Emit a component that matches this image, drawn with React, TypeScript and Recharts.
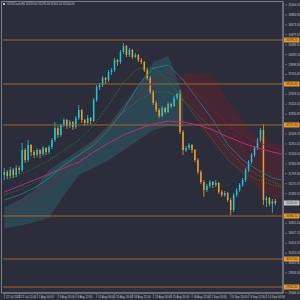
import React from "react";
import { ComposedChart, Bar, Line, Area, XAxis, YAxis, ReferenceLine } from "recharts";

// US30 H4 candles
const opens = [
  31746, 31804, 31726, 31843, 31746, 31882, 31843, 32233, 32038, 32331,
  32194, 32136, 32233, 32155, 32272, 32194, 32292, 32428, 32662, 32526,
  32721, 32818, 32701, 32779, 32682, 32857, 33013, 32818, 32760, 32857,
  32799, 33208, 33462, 33501, 33637, 33598, 33754, 33793, 33988, 33949,
  34144, 34261, 34086, 34183, 34047, 34086, 33988, 33949, 33793, 33637,
  33364, 33150, 33013, 32896, 33052, 32974, 33130, 33091, 33247, 33325,
  32584, 32233, 32272, 32331, 32233, 32038, 31804, 31609, 31453, 31531,
  31609, 31551, 31590, 31414, 31356, 31395, 31258, 31063, 31356, 31453,
  31551, 31648, 31843, 31999, 32136, 32272, 32428, 32623, 31258, 31297,
  31180, 31239,
];
const highs = [
  31882, 31843, 31902, 31882, 31941, 31921, 32370, 32272, 32428, 32350,
  32233, 32272, 32253, 32311, 32292, 32331, 32467, 32779, 32701, 32740,
  32857, 32838, 32818, 32799, 32896, 33111, 33033, 32838, 32916, 32877,
  33247, 33501, 33540, 33676, 33657, 33793, 33832, 34027, 34008, 34183,
  34320, 34281, 34222, 34203, 34125, 34105, 34027, 33969, 33832, 33676,
  33403, 33189, 33052, 33091, 33072, 33169, 33150, 33286, 33345, 33403,
  32623, 32311, 32370, 32350, 32253, 32077, 31843, 31648, 31570, 31648,
  31629, 31648, 31609, 31453, 31434, 31414, 31297, 31395, 31492, 31590,
  31687, 31882, 32038, 32175, 32311, 32467, 32662, 32740, 31336, 31317,
  31278, 31278,
];
const lows = [
  31648, 31668, 31687, 31687, 31707, 31765, 31804, 31980, 31999, 32116,
  32077, 32097, 32077, 32116, 32136, 32155, 32253, 32389, 32467, 32487,
  32682, 32643, 32662, 32623, 32643, 32818, 32760, 32701, 32721, 32740,
  32779, 33169, 33403, 33462, 33520, 33559, 33696, 33754, 33871, 33910,
  34105, 34047, 34047, 34008, 34027, 33949, 33910, 33754, 33598, 33325,
  33111, 32974, 32857, 32877, 32935, 32955, 33052, 33072, 33208, 32545,
  32136, 32194, 32233, 32175, 31999, 31765, 31570, 31317, 31414, 31492,
  31492, 31512, 31375, 31317, 31317, 31219, 30966, 31024, 31317, 31414,
  31512, 31609, 31804, 31960, 32097, 32233, 32389, 31161, 31122, 31141,
  31005, 31161,
];
const closes = [
  31804, 31726, 31843, 31746, 31882, 31843, 32233, 32038, 32331, 32194,
  32136, 32233, 32155, 32272, 32194, 32292, 32428, 32662, 32526, 32721,
  32818, 32701, 32779, 32682, 32857, 33013, 32818, 32760, 32857, 32799,
  33208, 33462, 33501, 33637, 33598, 33754, 33793, 33988, 33949, 34144,
  34261, 34086, 34183, 34047, 34086, 33988, 33949, 33793, 33637, 33364,
  33150, 33013, 32896, 33052, 32974, 33130, 33091, 33247, 33325, 32584,
  32233, 32272, 32331, 32233, 32038, 31804, 31609, 31453, 31531, 31609,
  31551, 31590, 31414, 31356, 31395, 31258, 31063, 31356, 31453, 31551,
  31648, 31843, 31999, 32136, 32272, 32428, 32623, 31258, 31297, 31180,
  31239, 31200,
];

// indicator values, sampled at these bar indexes
const lineKnots = [0, 5, 10, 15, 20, 25, 30, 35, 40, 45, 50, 55, 60, 65, 70, 75, 80, 85, 90, 93];
const maMagenta = [31414, 31531, 31648, 31765, 31882, 31999, 32194, 32370, 32526, 32643, 32740, 32799, 32779, 32721, 32623, 32487, 32370, 32272, 32194, 32155];
const maRed = [30966, 31161, 31356, 31551, 31804, 32038, 32428, 32721, 33013, 33306, 33559, 33696, 33598, 33306, 33013, 32721, 32526, 32389, 32272, 32233];
const maGreenFast = [31648, 31746, 31882, 32038, 32233, 32428, 32721, 33111, 33559, 33832, 33832, 33598, 33208, 32818, 32428, 32038, 31804, 31648, 31551, 31512];
const maGreenSlow = [31356, 31453, 31590, 31746, 31941, 32136, 32389, 32662, 32974, 33208, 33364, 33364, 33208, 32916, 32623, 32233, 31941, 31746, 31609, 31551];
const kijunTeal = [31258, 31356, 31492, 31687, 31941, 32136, 32331, 32623, 33013, 33501, 33832, 33891, 33598, 33208, 32818, 32331, 32038, 31843, 31687, 31648];

const upCloudKnots = [0, 5, 10, 15, 20, 25, 30, 35, 40, 45, 50, 55, 60];
const upCloudTop = [31122, 31258, 31453, 31843, 32038, 32233, 32428, 32721, 33111, 33501, 33949, 34066, 33306];
const upCloudBottom = [30712, 30751, 30829, 30907, 31356, 31746, 31882, 32038, 32233, 32428, 32623, 32701, 32682];
const downCloudKnots = [60, 65, 70, 75, 80, 85, 90, 93];
const downCloudTop = [33735, 33735, 33676, 33208, 32818, 32526, 32389, 32331];
const downCloudBottom = [33208, 32721, 32331, 32038, 31746, 31492, 31297, 31258];

const levels = [34378.2, 33520.4, 32721.3, 30946.1, 30107.6, 29561.5];
const lastPrice = 31200.0;

const priceTicks = [
  35060.5, 34866.9, 34673.3, 34479.7, 34286.1, 34092.5, 33898.9, 33705.3,
  33318.1, 33124.5, 32930.9, 32543.7, 32350.1, 32156.5, 31962.9, 31769.3,
  31575.7, 31382.1, 30801.3, 30607.7, 30414.1, 30220.5, 30026.9, 29833.3, 29446.1,
];
const dateTickIdx = [0, 5, 11, 18, 24, 31, 37, 43, 50, 56, 63, 69, 76, 82, 88];
const dateTickLabels = [
  "22 Jul 2022", "27 Jul 12:00", "1 Aug 04:00", "3 Aug 20:00", "8 Aug 12:00",
  "11 Aug 04:00", "15 Aug 20:00", "18 Aug 12:00", "23 Aug 04:00", "25 Aug 20:00",
  "30 Aug 12:00", "2 Sep 04:00", "6 Sep 20:00", "9 Sep 12:00", "14 Sep 04:00",
];

const SLOTS = 94;
const BG = "#2c2d3a";
const BULL = "#1cc8dc";
const BEAR = "#eb9c2c";
const TXT = "#c4c4cc";
const FONT = "Liberation Sans";

const pick = (knots: number[], vals: number[], i: number) => {
  const k = knots.indexOf(i);
  return k >= 0 ? vals[k] : null;
};

const rows = Array.from({ length: SLOTS }, (_, i) => {
  const has = i < opens.length;
  const up = upCloudKnots.indexOf(i);
  const dn = downCloudKnots.indexOf(i);
  return {
    i,
    o: has ? opens[i] : null,
    h: has ? highs[i] : null,
    l: has ? lows[i] : null,
    c: has ? closes[i] : null,
    range: has ? [lows[i], highs[i]] : null,
    upCloud: up >= 0 ? [upCloudBottom[up], upCloudTop[up]] : null,
    downCloud: dn >= 0 ? [downCloudBottom[dn], downCloudTop[dn]] : null,
    magenta: pick(lineKnots, maMagenta, i),
    red: pick(lineKnots, maRed, i),
    greenFast: pick(lineKnots, maGreenFast, i),
    greenSlow: pick(lineKnots, maGreenSlow, i),
    kijun: pick(lineKnots, kijunTeal, i),
  };
});

function Candle(props: any) {
  const { x, y, width, height, payload } = props;
  if (!payload || payload.o == null) return null;
  const top = Math.min(y, y + height);
  const h = Math.abs(height);
  const k = h / (payload.h - payload.l);
  const color = payload.c >= payload.o ? BULL : BEAR;
  const cx = x + width / 2;
  const bTop = top + (payload.h - Math.max(payload.o, payload.c)) * k;
  const bH = Math.max(1, Math.abs(payload.o - payload.c) * k);
  return (
    <g>
      <line x1={cx} x2={cx} y1={top} y2={top + h} stroke={color} strokeWidth={0.8} />
      <rect x={cx - 0.75} y={bTop} width={1.5} height={bH} fill={color} />
    </g>
  );
}

function PriceTick({ x, y, payload }: any) {
  return (
    <g>
      <line x1={x} x2={x + 2} y1={y} y2={y} stroke="#8a8a94" strokeWidth={0.6} />
      <text x={x + 3.5} y={y + 1} fontSize={2.7} fill={TXT} fontFamily={FONT}>
        {payload.value.toFixed(2)}
      </text>
    </g>
  );
}

function DateTick({ x, y, payload }: any) {
  const k = dateTickIdx.indexOf(payload.value);
  return (
    <g>
      <line x1={x} x2={x} y1={y - 1} y2={y + 3} stroke="#8a8a94" strokeWidth={0.6} />
      <text x={x + 1.5} y={y + 2.6} fontSize={2.8} fill={TXT} fontFamily={FONT}>
        {k >= 0 ? dateTickLabels[k] : ""}
      </text>
    </g>
  );
}

function Tag({ viewBox, text, bg, fg }: any) {
  if (!viewBox) return null;
  const x = viewBox.x + viewBox.width + 1;
  const y = viewBox.y;
  return (
    <g>
      <rect x={x} y={y - 2.5} width={15.5} height={5} fill={bg} />
      <text x={x + 2} y={y + 1} fontSize={2.7} fill={fg} fontFamily={FONT}>
        {text}
      </text>
    </g>
  );
}

export default function App() {
  return (
    <div style={{ position: "absolute", left: 0, top: 0, width: 300, height: 300, background: BG, overflow: "hidden" }}>
      <ComposedChart width={300} height={300} data={rows} margin={{ top: 3, right: 0, bottom: 0, left: 3 }}>
        <XAxis
          dataKey="i"
          type="category"
          ticks={dateTickIdx}
          interval={0}
          height={7}
          axisLine={{ stroke: "#8a8a94" }}
          tickLine={false}
          tickSize={0}
          tick={<DateTick />}
        />
        <YAxis
          orientation="right"
          type="number"
          domain={[29444.5, 35099.5]}
          allowDataOverflow
          ticks={priceTicks}
          interval={0}
          width={17}
          axisLine={{ stroke: "#8a8a94" }}
          tickLine={false}
          tickSize={0}
          tick={<PriceTick />}
        />
        <Area dataKey="upCloud" type="linear" fill="#2f7d88" fillOpacity={0.32} stroke="none" connectNulls isAnimationActive={false} />
        <Area dataKey="downCloud" type="linear" fill="#7a1a28" fillOpacity={0.32} stroke="none" connectNulls isAnimationActive={false} />
        {levels.map((v) => (
          <ReferenceLine
            key={v}
            y={v}
            stroke="#a5642a"
            strokeWidth={1}
            label={<Tag text={v.toFixed(2)} bg="#e8982c" fg="#2a2a2a" />}
          />
        ))}
        <ReferenceLine
          y={lastPrice}
          stroke="none"
          label={<Tag text={lastPrice.toFixed(2)} bg="#c8c8cc" fg="#2a2a2a" />}
        />
        <Line dataKey="magenta" stroke="#b3307c" strokeWidth={1} dot={false} connectNulls isAnimationActive={false} />
        <Line dataKey="red" stroke="#7e1e2c" strokeWidth={0.8} dot={false} connectNulls isAnimationActive={false} />
        <Line dataKey="kijun" stroke="#277f84" strokeWidth={0.8} dot={false} connectNulls isAnimationActive={false} />
        <Line dataKey="greenFast" stroke="#2f9440" strokeWidth={0.8} strokeDasharray="1 1.5" dot={false} connectNulls isAnimationActive={false} />
        <Line dataKey="greenSlow" stroke="#2f9440" strokeWidth={0.8} strokeDasharray="1 1.5" dot={false} connectNulls isAnimationActive={false} />
        <Bar dataKey="range" shape={(p: any) => <Candle {...p} />} isAnimationActive={false} />
      </ComposedChart>
      <svg width={300} height={300} style={{ position: "absolute", left: 0, top: 0, pointerEvents: "none" }}>
        <rect x={1.5} y={1.5} width={281.5} height={291.5} fill="none" stroke="#7c7d88" strokeWidth={1} />
        <rect x={3} y={3} width={2} height={2} fill={TXT} />
        <text x={7} y={5} fontSize={2.8} fill={TXT} fontFamily={FONT}>
          US30Cash,H4  31239.00 31278.00 31161.00 31200.00
        </text>
      </svg>
    </div>
  );
}
